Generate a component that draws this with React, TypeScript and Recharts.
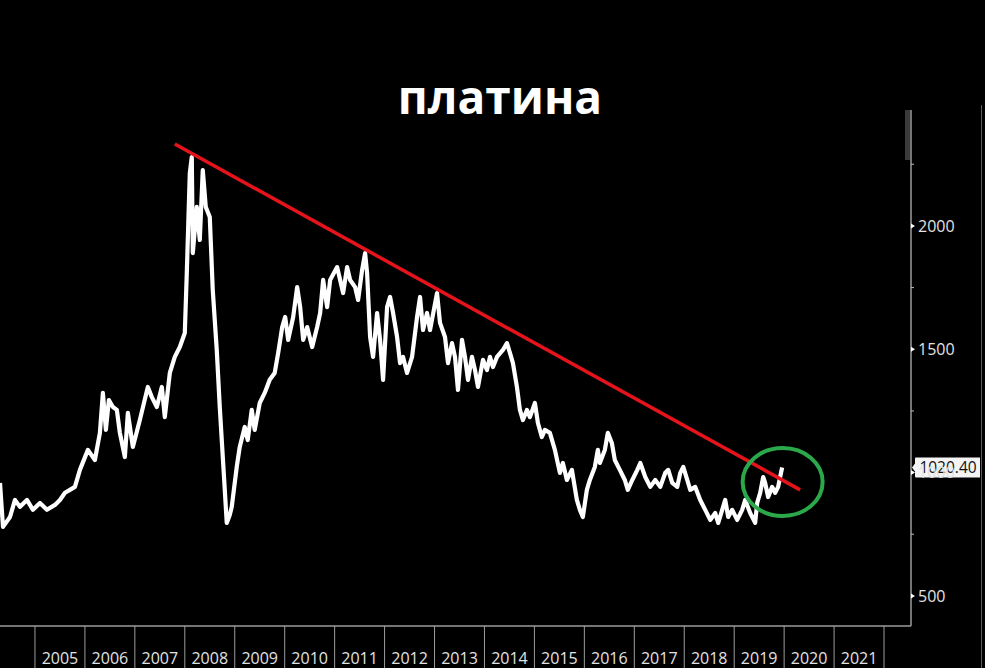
import { LineChart, Line, XAxis, YAxis, ReferenceLine, ReferenceDot } from "recharts";

// decimal year of each point
const DATES = [
  2004.3, 2004.36, 2004.5, 2004.6, 2004.7, 2004.84, 2004.96, 2005.1, 2005.24, 2005.4,
  2005.5, 2005.6, 2005.7, 2005.8, 2005.9, 2006.06, 2006.2, 2006.3, 2006.36, 2006.42,
  2006.48, 2006.56, 2006.64, 2006.7, 2006.8, 2006.86, 2006.96, 2007.1, 2007.26, 2007.34,
  2007.44, 2007.54, 2007.6, 2007.7, 2007.8, 2007.9, 2008.0, 2008.04, 2008.1, 2008.14,
  2008.16, 2008.24, 2008.3, 2008.36, 2008.42, 2008.5, 2008.56, 2008.64, 2008.7, 2008.78,
  2008.84, 2008.9, 2008.94, 2009.04, 2009.1, 2009.2, 2009.26, 2009.34, 2009.4, 2009.5,
  2009.6, 2009.7, 2009.8, 2009.87, 2009.95, 2010.01, 2010.07, 2010.17, 2010.25, 2010.31,
  2010.37, 2010.45, 2010.55, 2010.65, 2010.71, 2010.77, 2010.85, 2010.91, 2011.05, 2011.11,
  2011.17, 2011.25, 2011.31, 2011.41, 2011.47, 2011.55, 2011.61, 2011.65, 2011.71, 2011.77,
  2011.85, 2011.91, 2011.97, 2012.05, 2012.11, 2012.17, 2012.25, 2012.31, 2012.37, 2012.45,
  2012.55, 2012.65, 2012.71, 2012.77, 2012.85, 2012.91, 2013.05, 2013.11, 2013.21, 2013.27,
  2013.35, 2013.41, 2013.47, 2013.55, 2013.61, 2013.67, 2013.75, 2013.81, 2013.87, 2013.97,
  2014.05, 2014.11, 2014.17, 2014.25, 2014.37, 2014.45, 2014.51, 2014.57, 2014.65, 2014.71,
  2014.77, 2014.85, 2014.91, 2015.01, 2015.07, 2015.15, 2015.21, 2015.31, 2015.41, 2015.51,
  2015.57, 2015.65, 2015.75, 2015.85, 2015.91, 2015.97, 2016.05, 2016.11, 2016.21, 2016.27,
  2016.31, 2016.41, 2016.47, 2016.55, 2016.61, 2016.71, 2016.81, 2016.87, 2016.96, 2017.06,
  2017.12, 2017.22, 2017.32, 2017.42, 2017.52, 2017.62, 2017.68, 2017.76, 2017.86, 2017.92,
  2017.98, 2018.06, 2018.12, 2018.22, 2018.32, 2018.42, 2018.52, 2018.62, 2018.68, 2018.76,
  2018.82, 2018.88, 2018.96, 2019.06, 2019.16, 2019.22, 2019.32, 2019.42, 2019.46, 2019.52,
  2019.58, 2019.62, 2019.68, 2019.76, 2019.82, 2019.88, 2019.92, 2019.96,
];

// platinum price, USD/oz
const PRICES = [
  958, 780, 820, 889, 861, 889, 849, 877, 849, 869,
  889, 918, 930, 942, 1011, 1092, 1051, 1161, 1323, 1173,
  1294, 1266, 1254, 1161, 1063, 1242, 1104, 1213, 1347, 1306,
  1266, 1347, 1225, 1404, 1469, 1509, 1566, 1809, 2214, 2279,
  1890, 2077, 1943, 2226, 2077, 2036, 1740, 1497, 1266, 999,
  796, 828, 861, 1023, 1104, 1185, 1132, 1254, 1173, 1282,
  1323, 1376, 1404, 1485, 1590, 1631, 1538, 1631, 1752, 1671,
  1538, 1590, 1509, 1590, 1647, 1781, 1671, 1781, 1833, 1781,
  1728, 1833, 1781, 1752, 1700, 1821, 1890, 1809, 1550, 1469,
  1647, 1538, 1376, 1671, 1712, 1647, 1550, 1444, 1469, 1404,
  1469, 1631, 1712, 1578, 1647, 1578, 1728, 1607, 1550, 1444,
  1525, 1469, 1335, 1538, 1469, 1376, 1469, 1416, 1347, 1457,
  1416, 1469, 1428, 1469, 1497, 1525, 1485, 1444, 1347, 1254,
  1213, 1254, 1225, 1282, 1201, 1144, 1173, 1161, 1092, 999,
  1039, 970, 1011, 889, 849, 820, 930, 970, 1023, 1092,
  1039, 1092, 1161, 1120, 1051, 1011, 970, 930, 970, 1011,
  1039, 982, 942, 970, 942, 999, 1011, 958, 942, 999,
  1023, 970, 930, 942, 889, 849, 808, 836, 796, 849,
  889, 820, 849, 808, 849, 889, 836, 796, 877, 918,
  982, 958, 901, 942, 918, 942, 982, 1020.4,
];

const YEAR_TICKS = [2005, 2006, 2007, 2008, 2009, 2010, 2011, 2012, 2013, 2014, 2015, 2016, 2017, 2018, 2019, 2020, 2021, 2022];
const YEAR_LABELS = ["2005", "2006", "2007", "2008", "2009", "2010", "2011", "2012", "2013", "2014", "2015", "2016", "2017", "2018", "2019", "2020", "2021"];
const PRICE_TICKS = [500, 750, 1000, 1250, 1500, 1750, 2000, 2250];

// trend line drawn through the 2008 and 2011 highs
const TREND_START = { date: 2007.8, price: 2332 };
const TREND_END = { date: 2020.32, price: 930 };
const CIRCLE_AT = { date: 2019.97, price: 962 };
const LAST_PRICE = 1020.4;

const X_MIN = 2004.3;
const X_MAX = 2022.54;
const Y_MIN = 378;
const Y_MAX = 2470;

const W = 985;
const H = 668;
const AXIS_W = 74;
const AXIS_H = 42;
const PLOT_W = W - AXIS_W;
const PX_PER_YEAR = PLOT_W / (X_MAX - X_MIN);

const FONT = "'Open Sans', 'DejaVu Sans', sans-serif";
const AXIS_GREY = "#9c9c9c";
const LABEL = "#e2e2e2";

const data = DATES.map((d, i) => ({ date: d, price: PRICES[i] }));

function YearTick({ x, y, payload }: any) {
  const i = YEAR_TICKS.indexOf(payload.value);
  const label = YEAR_LABELS[i];
  return (
    <g>
      <line x1={x} x2={x} y1={y} y2={y + AXIS_H} stroke={AXIS_GREY} strokeWidth={1} />
      {label && (
        <text x={x + PX_PER_YEAR / 2} y={y + 38} textAnchor="middle" fill={LABEL} fontSize={16} fontFamily={FONT}>
          {label}
        </text>
      )}
    </g>
  );
}

function PriceTick({ x, y, payload }: any) {
  const major = payload.value % 500 === 0;
  if (!major) {
    return <line x1={x} x2={x + 3} y1={y} y2={y} stroke="#bdbdbd" strokeWidth={1} />;
  }
  return (
    <g>
      <path d={`M${x} ${y - 2.5} L${x + 4} ${y} L${x} ${y + 2.5} Z`} fill="#fff" />
      <text x={x + 7} y={y} dy="0.35em" fill={LABEL} fontSize={16} fontFamily={FONT}>
        {payload.value}
      </text>
    </g>
  );
}

function LastPriceLabel({ viewBox }: any) {
  const x = viewBox.x + viewBox.width;
  const y = viewBox.y;
  return (
    <g>
      <path
        d={`M${x + 1} ${y} L${x + 4} ${y - 4} L${x + 4} ${y - 9} Q${x + 4} ${y - 10} ${x + 5} ${y - 10} L${x + 69} ${y - 10} L${x + 69} ${y + 10} L${x + 5} ${y + 10} Q${x + 4} ${y + 10} ${x + 4} ${y + 9} L${x + 4} ${y + 4} Z`}
        fill="#f4f4f4"
      />
      <text x={x + 37} y={y} dy="0.36em" textAnchor="middle" fill="#111" fontSize={15.5} fontFamily={FONT}>
        {LAST_PRICE.toFixed(2)}
      </text>
    </g>
  );
}

export default function App() {
  return (
    <div style={{ position: "absolute", left: 0, top: 0, width: W, height: H, background: "#000", overflow: "hidden" }}>
      <div
        style={{
          position: "absolute", left: 0, top: 73, width: 1000, textAlign: "center",
          color: "#fff", fontFamily: FONT, fontWeight: 700, fontSize: 46, lineHeight: 1,
        }}
      >
        платина
      </div>
      <div style={{ position: "absolute", left: 905, top: 110, width: 5, height: 50, background: "#3a3a3a" }} />
      <div style={{ position: "absolute", left: 981, top: 105, width: 1, height: H - 105, background: "#5a5a5a" }} />
      <div style={{ position: "absolute", left: 0, top: 0 }}>
        <LineChart width={W} height={H} data={data} margin={{ top: 110, right: 0, bottom: 0, left: 0 }}>
          <XAxis
            dataKey="date"
            type="number"
            domain={[X_MIN, X_MAX]}
            ticks={YEAR_TICKS}
            interval={0}
            height={AXIS_H}
            tickLine={false}
            tickSize={0}
            tickMargin={0}
            axisLine={{ stroke: AXIS_GREY, strokeWidth: 1.5 }}
            tick={<YearTick />}
            allowDataOverflow
          />
          <YAxis
            orientation="right"
            type="number"
            domain={[Y_MIN, Y_MAX]}
            ticks={PRICE_TICKS}
            interval={0}
            width={AXIS_W}
            tickLine={false}
            tickSize={0}
            tickMargin={0}
            axisLine={{ stroke: AXIS_GREY, strokeWidth: 1.5 }}
            tick={<PriceTick />}
            allowDataOverflow
          />
          <Line
            dataKey="price"
            type="linear"
            stroke="#ffffff"
            strokeWidth={4.2}
            strokeLinejoin="round"
            dot={false}
            isAnimationActive={false}
          />
          <ReferenceLine
            segment={[
              { x: TREND_START.date, y: TREND_START.price },
              { x: TREND_END.date, y: TREND_END.price },
            ]}
            stroke="#e5131b"
            strokeWidth={3.5}
          />
          <ReferenceDot
            x={CIRCLE_AT.date}
            y={CIRCLE_AT.price}
            shape={(p: any) => (
              <ellipse cx={p.cx} cy={p.cy} rx={40} ry={34} fill="none" stroke="#2aa84a" strokeWidth={4} />
            )}
          />
          <ReferenceLine y={LAST_PRICE} stroke="none" label={<LastPriceLabel />} />
        </LineChart>
      </div>
    </div>
  );
}
